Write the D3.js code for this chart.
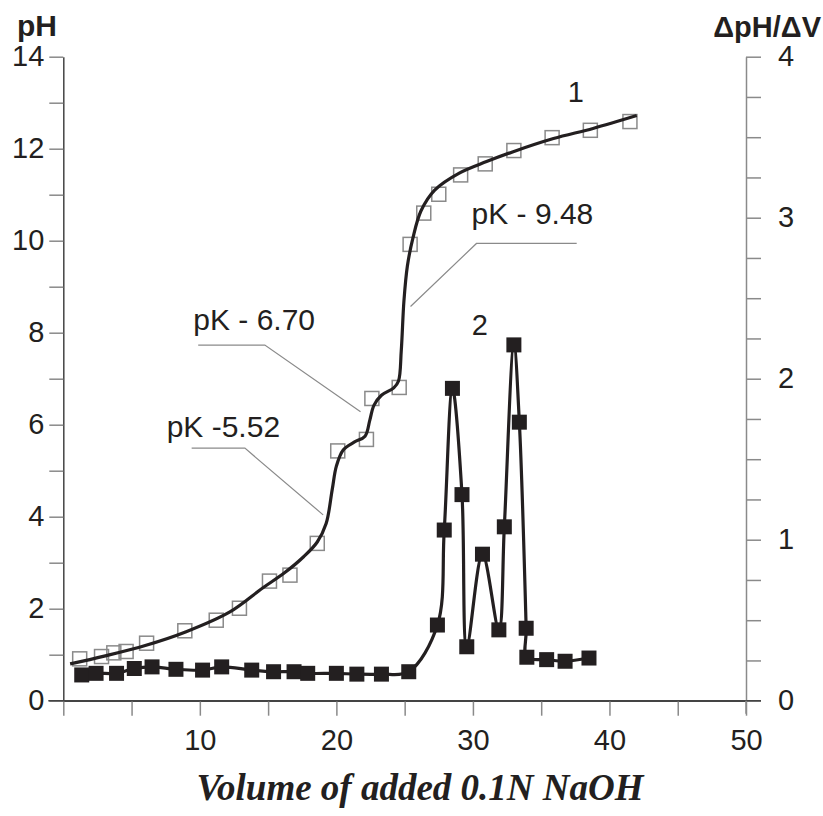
<!DOCTYPE html>
<html>
<head>
<meta charset="utf-8">
<script src="https://cdn.jsdelivr.net/npm/d3@7"></script>
<style>
  body { margin: 0; background: #fff; }
  svg { display: block; }
  text { font-family: "Liberation Sans", Arial, sans-serif; fill: #231f20; }
</style>
</head>
<body>
<svg id="chart" width="823" height="816"></svg>
<script>
// curve 1: pH, open squares (measured points)
var ph_vol = [1.2, 2.8, 3.7, 4.6, 6.1, 8.9, 11.2, 12.9, 15.1, 16.6, 18.6, 20.1, 22.2, 22.6, 24.6, 25.4, 26.4, 27.5, 29.1, 30.9, 33.0, 35.8, 38.6, 41.5];
var ph_val = [0.91, 0.96, 1.04, 1.07, 1.25, 1.52, 1.75, 2.01, 2.6, 2.73, 3.42, 5.43, 5.68, 6.57, 6.81, 9.92, 10.6, 11.01, 11.43, 11.67, 11.96, 12.24, 12.4, 12.59];

// curve 1: smooth fitted line
var fit_vol = [0.5, 3, 6, 9, 12.2, 14.6, 16.2, 17.6, 18.6, 19.25, 19.7, 20.0, 20.5, 21.3, 22.1, 22.45, 22.75, 23.3, 24.2, 24.55, 24.75, 24.95, 25.2, 25.6, 26.2, 27.2, 29.0, 31.0, 32.9, 35.9, 38.8, 42.0];
var fit_val = [0.8, 0.97, 1.2, 1.5, 1.93, 2.45, 2.78, 3.13, 3.45, 3.85, 4.6, 5.1, 5.45, 5.62, 5.75, 6.1, 6.42, 6.64, 6.8, 6.95, 7.6, 8.7, 9.45, 10.05, 10.65, 11.1, 11.47, 11.72, 11.93, 12.22, 12.44, 12.72];

// curve 2: dpH/dV, filled squares
var d_vol = [1.35, 2.4, 3.9, 5.2, 6.5, 8.25, 10.2, 11.6, 13.8, 15.4, 16.9, 17.9, 20.0, 21.5, 23.3, 25.3, 27.4, 27.9, 28.5, 29.2, 29.55, 30.7, 31.9, 32.3, 33.0, 33.4, 33.9, 33.95, 35.4, 36.75, 38.5];
var d_val = [0.16, 0.17, 0.17, 0.2, 0.21, 0.195, 0.19, 0.21, 0.19, 0.18, 0.18, 0.17, 0.17, 0.165, 0.165, 0.18, 0.47, 1.06, 1.94, 1.28, 0.335, 0.91, 0.44, 1.08, 2.21, 1.73, 0.45, 0.27, 0.255, 0.245, 0.265];

var x_ticks = [0, 5, 10, 15, 20, 25, 30, 35, 40, 45, 50];
var x_labels = ["", "", "10", "", "20", "", "30", "", "40", "", "50"];
var ph_ticks = d3.range(0, 15);
var d_ticks = d3.range(0, 17).map(function(i) { return i / 4; });

// pK annotations: label anchor and leader line, in data units (volume, pH)
var pk_labels = ["pK - 9.48", "pK - 6.70", "pK -5.52"];
var pk_text = [[29.9, 10.36], [9.52, 8.06], [7.57, 5.74]];
var pk_leader = [
    [[37.6, 9.94], [30.26, 9.94], [25.43, 8.57]],
    [[9.88, 7.73], [14.76, 7.73], [21.77, 6.28]],
    [[9.4, 5.49], [13.3, 5.49], [19.03, 4.04]]
];
var curve_names = ["1", "2"];
var curve_name_pos = [[36.95, 13.02], [29.92, 7.95]];

var svg = d3.select("#chart");

var x_scale = d3.scaleLinear().domain([0, 50]).range([63.3, 746]);
var y_scale = d3.scaleLinear().domain([0, 14]).range([700.7, 56.7]);
var y2_scale = d3.scaleLinear().domain([0, 4]).range([700.7, 56.7]);

// axes
var left_axis = d3.axisLeft(y_scale)
    .tickValues(ph_ticks)
    .tickFormat(function(d) { return d % 2 == 0 ? d : ""; })
    .tickSize(14).tickPadding(5).tickSizeOuter(0);
var gl = svg.append("g").attr("transform", "translate(" + x_scale(0) + ",0)").call(left_axis);

var right_axis = d3.axisRight(y2_scale)
    .tickValues(d_ticks)
    .tickFormat(function(d) { return d % 1 == 0 ? d : ""; })
    .tickSize(15).tickPadding(17).tickSizeOuter(0);
var gr = svg.append("g").attr("transform", "translate(" + x_scale(50) + ",0)").call(right_axis);

var bottom_axis = d3.axisBottom(x_scale)
    .tickValues(x_ticks)
    .tickFormat(function(d, i) { return x_labels[i]; })
    .tickSize(15).tickPadding(14).tickSizeOuter(0);
var gb = svg.append("g").attr("transform", "translate(0," + y_scale(0) + ")").call(bottom_axis);

[gl, gr, gb].forEach(function(g) {
    g.select(".domain").attr("stroke", "#444").attr("stroke-width", 1.5);
    g.selectAll(".tick line").attr("stroke", "#8a8a8a").attr("stroke-width", 1.5);
    g.selectAll(".tick text").style("font-size", "29px").attr("fill", "#231f20");
});
gr.select(".domain").attr("stroke", "#8a8a8a");
// stub of x axis to the left, and right axis running below zero
svg.append("line")
    .attr("x1", x_scale(0) - 15).attr("x2", x_scale(50) + 15)
    .attr("y1", y_scale(0)).attr("y2", y_scale(0))
    .attr("stroke", "#444").attr("stroke-width", 1.5);
svg.append("line")
    .attr("x1", x_scale(50)).attr("x2", x_scale(50))
    .attr("y1", y_scale(0)).attr("y2", y_scale(0) + 13)
    .attr("stroke", "#8a8a8a").attr("stroke-width", 1.5);

// axis titles
svg.append("text").attr("x", 17).attr("y", 36)
    .style("font-size", "30px").style("font-weight", "bold").text("pH");
svg.append("text").attr("x", 821).attr("y", 37).attr("text-anchor", "end")
    .style("font-size", "29px").style("font-weight", "bold").text("\u0394pH/\u0394V");
svg.append("text").attr("x", 420).attr("y", 800).attr("text-anchor", "middle")
    .style("font-family", "'Liberation Serif', 'Times New Roman', serif")
    .style("font-size", "37px").style("font-weight", "bold").style("font-style", "italic")
    .text("Volume of added 0.1N NaOH");

// pK leader lines and labels
var leader = d3.line()
    .x(function(d) { return x_scale(d[0]); })
    .y(function(d) { return y_scale(d[1]); });
svg.selectAll("path.leader")
    .data(pk_leader)
    .enter()
    .append("path")
    .attr("class", "leader")
    .attr("d", leader)
    .attr("fill", "none")
    .attr("stroke", "#8a8a8a")
    .attr("stroke-width", 1.2);
svg.selectAll("text.pk")
    .data(pk_labels)
    .enter()
    .append("text")
    .attr("class", "pk")
    .attr("x", function(d, i) { return x_scale(pk_text[i][0]); })
    .attr("y", function(d, i) { return y_scale(pk_text[i][1]); })
    .style("font-size", "30px")
    .text(function(d) { return d; });
svg.selectAll("text.cname")
    .data(curve_names)
    .enter()
    .append("text")
    .attr("class", "cname")
    .attr("x", function(d, i) { return x_scale(curve_name_pos[i][0]); })
    .attr("y", function(d, i) { return y_scale(curve_name_pos[i][1]); })
    .style("font-size", "29px")
    .text(function(d) { return d; });

var sq = 14;

// curve 1 squares
svg.selectAll("rect.ph")
    .data(ph_vol)
    .enter()
    .append("rect")
    .attr("class", "ph")
    .attr("x", function(d) { return x_scale(d) - sq / 2; })
    .attr("y", function(d, i) { return y_scale(ph_val[i]) - sq / 2; })
    .attr("width", sq).attr("height", sq)
    .attr("fill", "none")
    .attr("stroke", "#8a8a8a")
    .attr("stroke-width", 1.5);

// curve 1 line
var fit_line = d3.line()
    .x(function(d) { return x_scale(d); })
    .y(function(d, i) { return y_scale(fit_val[i]); })
    .curve(d3.curveCatmullRom.alpha(0.5));
svg.append("path")
    .attr("d", fit_line(fit_vol))
    .attr("fill", "none")
    .attr("stroke", "#231f20")
    .attr("stroke-width", 3.2);

// curve 2 line and squares
var d_line = d3.line()
    .x(function(d) { return x_scale(d); })
    .y(function(d, i) { return y2_scale(d_val[i]); })
    .curve(d3.curveCatmullRom.alpha(0.5));
svg.append("path")
    .attr("d", d_line(d_vol))
    .attr("fill", "none")
    .attr("stroke", "#231f20")
    .attr("stroke-width", 3.2);
svg.selectAll("rect.dv")
    .data(d_vol)
    .enter()
    .append("rect")
    .attr("class", "dv")
    .attr("x", function(d) { return x_scale(d) - 7.5; })
    .attr("y", function(d, i) { return y2_scale(d_val[i]) - 7.5; })
    .attr("width", 15).attr("height", 15)
    .attr("fill", "#231f20");
</script>
</body>
</html>
